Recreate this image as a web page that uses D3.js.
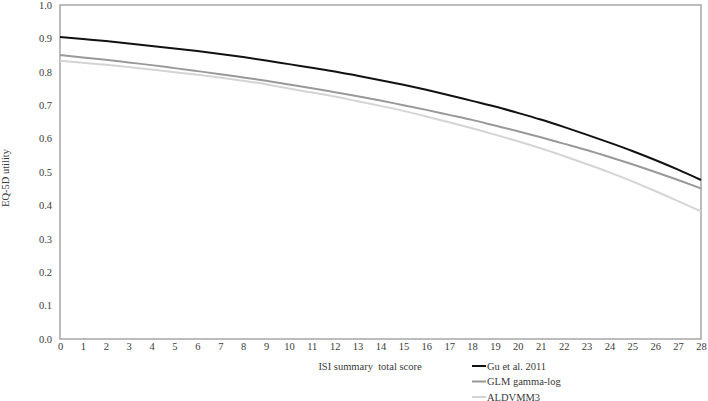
<!DOCTYPE html>
<html>
<head>
<meta charset="utf-8">
<script src="https://cdn.jsdelivr.net/npm/d3@7"></script>
<style>
  body { margin: 0; background: #fff; }
  svg text { font-family: "Liberation Serif", "Times New Roman", "DejaVu Serif", serif !important; fill: #3a3a3a; }
</style>
</head>
<body>
<svg id="chart" width="708" height="401"></svg>
<script>
// ISI score vs predicted EQ-5D utility
const scores = d3.range(0, 29);
const yTicks = [0, 0.1, 0.2, 0.3, 0.4, 0.5, 0.6, 0.7, 0.8, 0.9, 1.0];

const guValues = [0.904, 0.898, 0.892, 0.885, 0.877, 0.870, 0.862, 0.853, 0.844, 0.834,
  0.823, 0.812, 0.801, 0.788, 0.775, 0.761, 0.746, 0.730, 0.713, 0.696,
  0.677, 0.657, 0.635, 0.612, 0.588, 0.563, 0.536, 0.507, 0.476];
const glmValues = [0.850, 0.843, 0.836, 0.828, 0.820, 0.811, 0.802, 0.793, 0.783, 0.773,
  0.762, 0.751, 0.739, 0.727, 0.714, 0.700, 0.686, 0.671, 0.656, 0.639,
  0.622, 0.604, 0.585, 0.566, 0.545, 0.523, 0.500, 0.476, 0.451];
const aldValues = [0.833, 0.827, 0.821, 0.814, 0.807, 0.799, 0.791, 0.783, 0.773, 0.763,
  0.750, 0.738, 0.726, 0.712, 0.698, 0.683, 0.666, 0.649, 0.631, 0.612,
  0.592, 0.571, 0.548, 0.524, 0.499, 0.472, 0.443, 0.413, 0.382];

const seriesNames = ["Gu et al. 2011", "GLM gamma-log", "ALDVMM3"];
const seriesColors = ["#111111", "#999999", "#d4d4d4"];
const seriesData = [guValues, glmValues, aldValues];

const svg = d3.select("#chart");
const margin = { top: 5, right: 7, bottom: 62, left: 60 };
const width = 708 - margin.left - margin.right;
const height = 401 - margin.top - margin.bottom;

const g = svg.append("g").attr("transform", `translate(${margin.left},${margin.top})`);

const x = d3.scaleLinear().domain([0, 28]).range([0, width]);
const y = d3.scaleLinear().domain([0, 1]).range([height, 0]);

// frame
g.append("rect")
  .attr("x", 0).attr("y", 0)
  .attr("width", width).attr("height", height)
  .attr("fill", "none")
  .attr("stroke", "#a6a6a6")
  .attr("stroke-width", 1.5);

// axes (labels only)
const xAxis = g.append("g")
  .attr("transform", `translate(0,${height})`)
  .call(d3.axisBottom(x).tickValues(scores).tickSize(0).tickPadding(4).tickFormat(d3.format("d")));
const yAxis = g.append("g")
  .call(d3.axisLeft(y).tickValues(yTicks).tickSize(0).tickPadding(8).tickFormat(d3.format(".1f")));
[xAxis, yAxis].forEach((a) => {
  a.attr("font-family", null);
  a.select(".domain").remove();
  a.selectAll("text").attr("font-size", 10.5);
});

// lines
const line = d3.line()
  .x((d, i) => x(scores[i]))
  .y((d) => y(d))
  .curve(d3.curveMonotoneX);

seriesData.forEach((vals, i) => {
  g.append("path")
    .datum(vals)
    .attr("fill", "none")
    .attr("stroke", seriesColors[i])
    .attr("stroke-width", 2)
    .attr("d", line);
});

// axis titles
svg.append("text")
  .attr("x", 370).attr("y", 370)
  .attr("text-anchor", "middle")
  .attr("font-size", 10.5)
  .attr("xml:space", "preserve")
  .text("ISI summary  total score");

svg.append("text")
  .attr("transform", "translate(9,178) rotate(-90)")
  .attr("text-anchor", "middle")
  .attr("font-size", 10.5)
  .text("EQ-5D utility");

// legend
const legend = svg.append("g").attr("transform", "translate(472,366)");
seriesNames.forEach((name, i) => {
  const row = legend.append("g").attr("transform", `translate(0,${i * 15.5})`);
  row.append("line")
    .attr("x1", 0).attr("x2", 14)
    .attr("y1", 0).attr("y2", 0)
    .attr("stroke", seriesColors[i])
    .attr("stroke-width", 2);
  row.append("text")
    .attr("x", 15).attr("y", 3.5)
    .attr("font-size", 10.5)
    .text(name);
});
</script>
</body>
</html>
